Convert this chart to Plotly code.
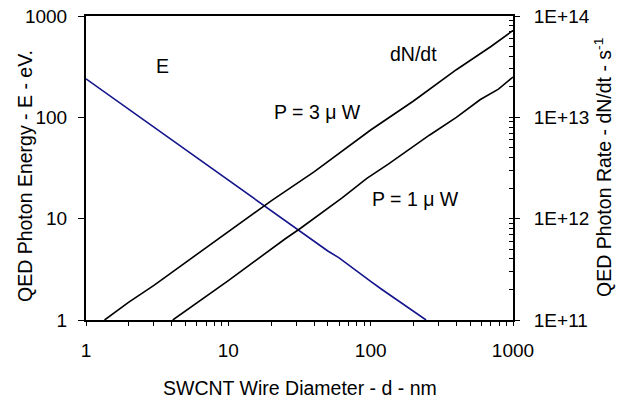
import plotly.graph_objects as go

# ---------------- data ----------------
e_d = [1, 2, 3, 5, 8, 10, 20, 30, 50, 60, 80, 100, 120, 150, 200, 245]
e_val = [240, 120, 80, 48, 30, 24, 12, 8, 4.8, 4.1, 3.0, 2.4, 2.0, 1.6, 1.2, 1.0]

p3_d = [1.35, 2, 3, 5, 8, 10, 20, 40, 60, 100, 200, 400, 700, 1000]
p3_val = [1e11, 1.5e11, 2.2e11, 3.7e11, 6.0e11, 7.4e11, 1.5e12, 2.9e12, 4.4e12,
          7.5e12, 1.45e13, 2.95e13, 5.0e13, 7.2e13]

p1_d = [4.07, 10, 25, 32, 63, 94, 133, 260, 400, 590, 790, 1000]
p1_val = [1e11, 2.45e11, 6.3e11, 8.0e11, 1.6e12, 2.5e12, 3.45e12, 6.7e12,
          1.0e13, 1.5e13, 1.9e13, 2.5e13]

x_ticks = [1, 10, 100, 1000]
x_ticktext = ["1", "10", "100", "1000"]
y_ticks = [1, 10, 100, 1000]
y_ticktext = ["1", "10", "100", "1000"]
y2_ticks = [1e11, 1e12, 1e13, 1e14]
y2_ticktext = ["1E+11", "1E+12", "1E+13", "1E+14"]

FONT = "Liberation Sans, Arial, sans-serif"
TICKF = dict(family=FONT, size=19, color="black")
TXTF = dict(family=FONT, size=19.5, color="black")

# x axis: labelled decades plus unlabelled intermediate ticks
x_all = []
x_all_text = []
for k in range(3):
    for m in range(1, 10):
        v = m * 10 ** k
        x_all.append(v)
        x_all_text.append(x_ticktext[k] if m == 1 else "")
x_all.append(x_ticks[-1])
x_all_text.append(x_ticktext[-1])

y2_inside = [m * 10 ** k for k in range(11, 14) for m in range(1, 10)] + [1e14]

fig = go.Figure()
fig.add_trace(go.Scatter(x=e_d, y=e_val, mode="lines", yaxis="y",
                         line=dict(color="#14148c", width=1.6), showlegend=False))
fig.add_trace(go.Scatter(x=p3_d, y=p3_val, mode="lines", yaxis="y2",
                         line=dict(color="black", width=1.6), showlegend=False))
fig.add_trace(go.Scatter(x=p1_d, y=p1_val, mode="lines", yaxis="y3",
                         line=dict(color="black", width=1.6), showlegend=False))

fig.update_layout(
    width=632, height=403,
    margin=dict(l=86, r=119, t=16, b=83, autoexpand=False),
    paper_bgcolor="white", plot_bgcolor="white",
    font=TXTF,
    xaxis=dict(type="log", range=[0, 3], showgrid=False, zeroline=False, automargin=False,
               showline=True, linecolor="black", linewidth=2, mirror=True,
               ticks="outside", ticklen=4, tickwidth=1, tickcolor="black",
               tickmode="array", tickvals=x_all, ticktext=x_all_text,
               tickfont=TICKF, ticklabelstandoff=8),
    yaxis=dict(type="log", range=[0, 3], showgrid=False, zeroline=False, automargin=False,
               showline=True, linecolor="black", linewidth=2,
               ticks="outside", ticklen=6, tickwidth=1, tickcolor="black",
               tickmode="array", tickvals=y_ticks, ticktext=y_ticktext,
               tickfont=TICKF, ticklabelstandoff=7),
    yaxis2=dict(type="log", range=[11, 14], overlaying="y", side="right", anchor="x",
                showgrid=False, zeroline=False, automargin=False,
                showline=True, linecolor="black", linewidth=2,
                ticks="outside", ticklen=5, tickwidth=1, tickcolor="black",
                tickmode="array", tickvals=y2_ticks, ticktext=y2_ticktext,
                tickfont=TICKF, ticklabelstandoff=10),
    yaxis3=dict(type="log", range=[11, 14], overlaying="y", side="right", anchor="x",
                showgrid=False, zeroline=False, showline=False, automargin=False,
                ticks="inside", ticklen=4, tickwidth=1, tickcolor="black",
                tickmode="array", tickvals=y2_inside, showticklabels=False),
)

annots = [
    dict(text="E", x=0.538, y=2.503),
    dict(text="dN/dt", x=2.301, y=2.621),
    dict(text="P = 3 \u03bc W", x=1.623, y=2.05),
    dict(text="P = 1 \u03bc W", x=2.316, y=1.199),
]
for a in annots:
    fig.add_annotation(**a, xref="x", yref="y", showarrow=False, font=TXTF,
                       xanchor="center", yanchor="middle")

fig.add_annotation(text="SWCNT Wire Diameter - d - nm", x=0.5, y=0, xref="paper", yref="paper",
                   yshift=-68, showarrow=False, font=TXTF, xanchor="center", yanchor="middle")
fig.add_annotation(text="QED Photon Energy - E - eV.", x=0, y=0.5, xref="paper", yref="paper",
                   xshift=-61, yshift=-8, textangle=-90, showarrow=False, font=TXTF,
                   xanchor="center", yanchor="middle")
fig.add_annotation(text="QED Photon Rate - dN/dt - s<sup>-1</sup>", x=1, y=0.5, xref="paper", yref="paper",
                   xshift=90, textangle=-90, showarrow=False, font=TXTF,
                   xanchor="center", yanchor="middle")

fig.write_html("out.html")
